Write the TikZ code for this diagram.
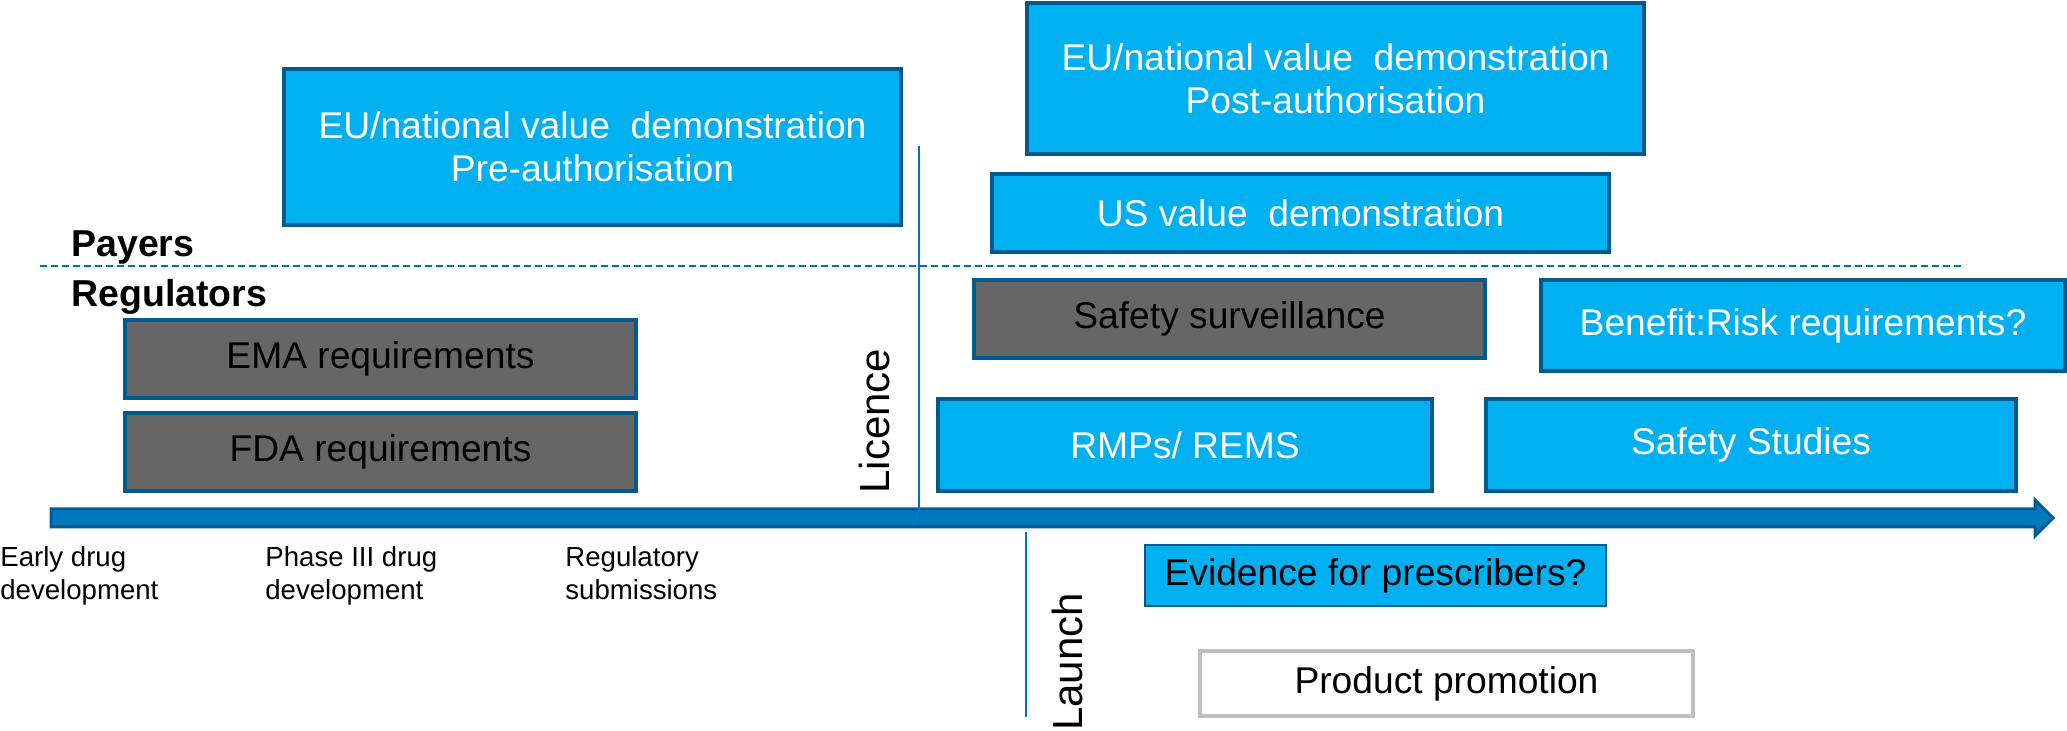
\documentclass[tikz,border=0pt]{standalone}
\usepackage{fontspec}
\setmainfont{Liberation Sans}
\definecolor{cyanfill}{HTML}{00B0F0}
\definecolor{bordblue}{HTML}{005A8E}
\definecolor{grayfill}{HTML}{666666}
\definecolor{axisfill}{HTML}{0079C1}
\definecolor{axisbord}{HTML}{005B94}
\definecolor{lineblue}{HTML}{0070C0}
\definecolor{promogray}{HTML}{BFBFBF}
\begin{document}
\begin{tikzpicture}[x=0.5pt,y=-0.5pt,
  box/.style={draw=bordblue, line width=2pt, inner sep=0pt, align=center,
    font=\fontsize{18.6}{21.5}\selectfont},
  sz/.style 2 args={minimum width=#1, minimum height=#2},
  cyanbox/.style={box, fill=cyanfill, text=white},
  graybox/.style={box, fill=grayfill, text=black},
  lanehead/.style={anchor=base west, inner sep=0pt, font=\fontsize{18.75}{22}\selectfont\bfseries},
  phase/.style={anchor=base west, inner sep=0pt, align=left, font=\fontsize{13.8}{16.5}\selectfont},
  milestone/.style={rotate=90, inner sep=0pt, font=\fontsize{21}{25}\selectfont},
  marker/.style={draw=lineblue, line width=1pt},
]
\useasboundingbox (0,0) rectangle (2067,731);

% lane separator
\coordinate (dashL) at (40,266);
\coordinate (dashR) at (1964,266);
\draw[lineblue, line width=1pt, dash pattern=on 3.5pt off 2pt] (dashL) -- (dashR);

\node[lanehead] (payers) at (71,257) {Payers};
\node[lanehead] (regulators) at (71,307) {Regulators};

% payer boxes
\node[cyanbox, sz={308.5pt}{78pt}] (eupre) at (592.5,147) {EU/national value\ \ demonstration\\Pre-authorisation};
\node[cyanbox, sz={308.5pt}{75.5pt}] (eupost) at (1335.5,78.5) {EU/national value\ \ demonstration\\Post-authorisation};
\node[cyanbox, sz={308.5pt}{39pt}] (us) at (1300.5,213) {US value\ \ demonstration};

% regulator boxes
\node[graybox, sz={255.5pt}{39pt}] (ema) at (380.5,359) {EMA requirements};
\node[graybox, sz={255.5pt}{39pt}] (fda) at (380.5,452) {FDA requirements};
\node[graybox, sz={255.5pt}{39pt}] (safsurv) at (1229.5,319) {Safety surveillance};
\node[cyanbox, sz={262pt}{45.5pt}] (benrisk) at (1803,325.5) {Benefit:Risk requirements?};
\node[cyanbox, sz={247pt}{46pt}] (rmps) at (1185,445) {RMPs/ REMS};
\node[cyanbox, sz={265pt}{46pt}] (safstud) at (1751,445) {Safety Studies};

% time axis
\coordinate (axS) at (51,518);
\coordinate (axT) at (2053,518);
\path[draw=axisbord, fill=axisfill, line width=1.5pt]
  (51,509) -- (2035,509) -- (2035,500) -- (axT) -- (2035,536) -- (2035,527) -- (51,527) -- cycle;

% milestones
\coordinate (licT) at (919,146);
\coordinate (licB) at (919,524);
\draw[marker] (licT) -- (licB);
\node[milestone] (licence) at (874.5,421) {Licence};
\coordinate (lauT) at (1026,532);
\coordinate (lauB) at (1026,717);
\draw[marker] (lauT) -- (lauB);
\node[milestone] (launch) at (1067.5,662) {Launch};

% phases
\node[phase] (early) at (0,600) {Early drug\\development};
\node[phase] (phase3) at (265,600) {Phase III drug\\development};
\node[phase] (regsub) at (565,600) {Regulatory\\submissions};

% post-launch
\node[box, fill=cyanfill, text=black, line width=1pt, sz={230.5pt}{30.5pt}] (evid) at (1375.5,575.5) {Evidence for prescribers?};
\node[box, draw=promogray, fill=white, text=black, sz={246.5pt}{32.5pt}] (promo) at (1446.5,683.5) {Product promotion};
\end{tikzpicture}
\end{document}
